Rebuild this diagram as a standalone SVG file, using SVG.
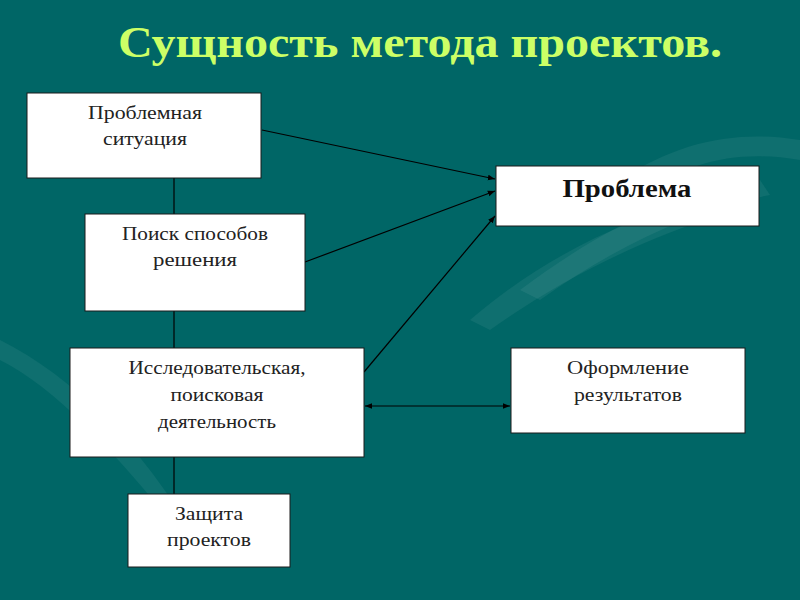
<svg xmlns="http://www.w3.org/2000/svg" width="800" height="600" viewBox="0 0 800 600">
<style>
.box{fill:#ffffff;stroke:#1a1a1a;stroke-width:1}
.t{font-family:"Liberation Serif","DejaVu Serif",serif;font-size:19px;fill:#222;text-anchor:middle}
.tb{font-family:"Liberation Serif","DejaVu Serif",serif;font-size:25px;font-weight:bold;fill:#111;text-anchor:middle}
.ln{stroke:#000;stroke-width:1.2;fill:none}
.deco{fill:#ffffff;opacity:0.06}
</style>
<defs>
<marker id="ah" viewBox="0 0 10 10" refX="10" refY="5" markerWidth="6" markerHeight="6" orient="auto-start-reverse">
<path d="M0,1 L10,5 L0,9 z" fill="#000"/>
</marker>
</defs>
<rect width="800" height="600" fill="#006666"/>
<g id="background">
<path class="deco" d="M0,360 C60,390 120,460 170,520 L185,520 C140,450 80,380 0,340 z"/>
<path class="deco" d="M470,320 C540,260 620,220 700,200 L720,215 C640,240 560,280 490,330 z"/>
<path class="deco" d="M520,290 C600,230 680,190 760,180 L770,195 C690,210 610,250 540,300 z"/>
<path class="deco" d="M620,180 C680,140 740,130 800,140 L800,160 C740,150 690,160 640,195 z"/>
</g>
<text x="420" y="57" font-family="'Liberation Serif','DejaVu Serif',serif" font-size="44" font-weight="bold" fill="#ccff66" text-anchor="middle" textLength="604" lengthAdjust="spacingAndGlyphs">Сущность метода проектов.</text>
<g id="connectors">
<line class="ln" x1="174" y1="178" x2="174" y2="214"/>
<line class="ln" x1="174" y1="311" x2="174" y2="348"/>
<line class="ln" x1="174" y1="457" x2="174" y2="494"/>
<line class="ln" x1="262" y1="130" x2="495" y2="179" marker-end="url(#ah)"/>
<line class="ln" x1="305" y1="262" x2="495" y2="191" marker-end="url(#ah)"/>
<line class="ln" x1="364" y1="372" x2="495" y2="216" marker-end="url(#ah)"/>
<line class="ln" x1="365" y1="406" x2="510" y2="406" marker-start="url(#ah)" marker-end="url(#ah)"/>
</g>
<g id="n-situation">
<rect class="box" x="27" y="93" width="234" height="85"/>
<text class="t" x="145" y="119" textLength="114" lengthAdjust="spacingAndGlyphs">Проблемная</text>
<text class="t" x="145" y="145" textLength="84" lengthAdjust="spacingAndGlyphs">ситуация</text>
</g>
<g id="n-search">
<rect class="box" x="85" y="214" width="220" height="97"/>
<text class="t" x="195" y="240" textLength="146" lengthAdjust="spacingAndGlyphs">Поиск способов</text>
<text class="t" x="195" y="266" textLength="84" lengthAdjust="spacingAndGlyphs">решения</text>
</g>
<g id="n-research">
<rect class="box" x="70" y="348" width="294" height="109"/>
<text class="t" x="217" y="374" textLength="177" lengthAdjust="spacingAndGlyphs">Исследовательская,</text>
<text class="t" x="217" y="401" textLength="93" lengthAdjust="spacingAndGlyphs">поисковая</text>
<text class="t" x="217" y="428" textLength="118" lengthAdjust="spacingAndGlyphs">деятельность</text>
</g>
<g id="n-defense">
<rect class="box" x="128" y="494" width="162" height="73"/>
<text class="t" x="209" y="520" textLength="68" lengthAdjust="spacingAndGlyphs">Защита</text>
<text class="t" x="209" y="546" textLength="84" lengthAdjust="spacingAndGlyphs">проектов</text>
</g>
<g id="n-problem">
<rect class="box" x="496" y="166" width="263" height="60"/>
<text class="tb" x="627" y="197" textLength="129" lengthAdjust="spacingAndGlyphs">Проблема</text>
</g>
<g id="n-results">
<rect class="box" x="511" y="348" width="234" height="85"/>
<text class="t" x="628" y="374" textLength="122" lengthAdjust="spacingAndGlyphs">Оформление</text>
<text class="t" x="628" y="401" textLength="108" lengthAdjust="spacingAndGlyphs">результатов</text>
</g>
</svg>
